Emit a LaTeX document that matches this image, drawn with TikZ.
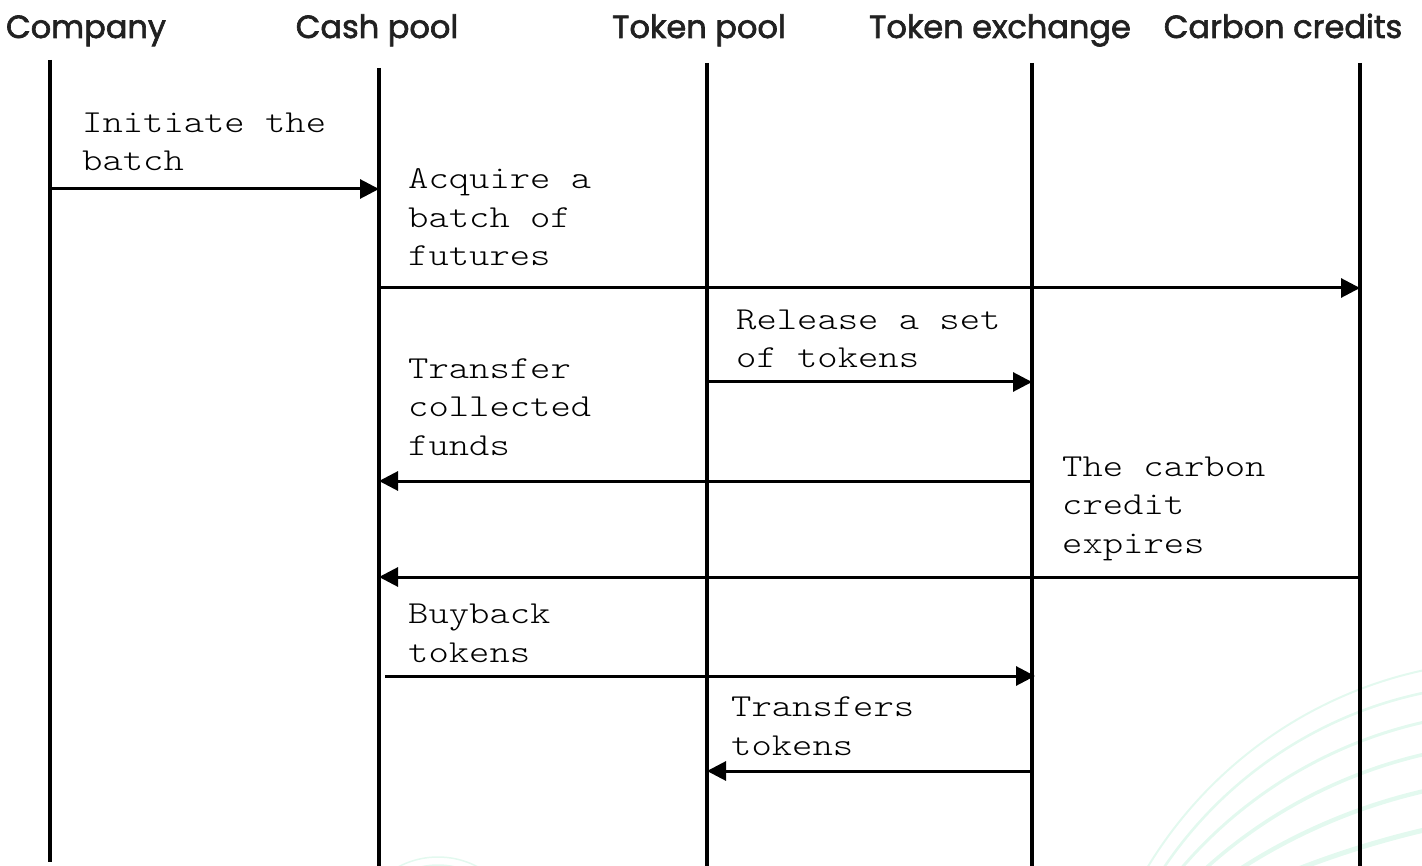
\documentclass[tikz,border=0pt]{standalone}
\usepackage{fontspec}
\usetikzlibrary{arrows.meta}
\newfontfamily\headfont{Poppins}[FakeBold=2]
\newfontfamily\notefont{lmmonolt10-regular}[Extension=.otf, FakeStretch=1.21]

\definecolor{mint}{HTML}{E3F9EF}

\tikzset{
  lifeline/.style={line width=4pt, black},
  msg/.style={line width=3pt, black, -{Triangle[length=19pt,width=19pt]}},
  header/.style={font=\headfont\fontsize{32}{36}\selectfont, text=black!87, anchor=base, inner sep=0pt},
  note/.style={font=\notefont\fontsize{32}{38.5}\selectfont, align=left, anchor=base west, inner sep=0pt},
  swirl/.style={draw=mint},
}

\begin{document}
\begin{tikzpicture}[x=1pt,y=-1pt]
  \useasboundingbox (0,0) rectangle (1422,866);

  % faint decorative arcs in the lower right corner
  \begin{scope}
    \clip (0,0) rectangle (1422,866);
    \draw[swirl, line width=2pt]   (1513.5,1088.3) circle[radius=427.5];
    \draw[swirl, line width=2.6pt] (1509.1,1100.5) circle[radius=416.4];
    \draw[swirl, line width=3pt]   (1522.0,1159.7) circle[radius=448.3];
    \draw[swirl, line width=3.6pt] (1534.5,1232.8) circle[radius=490.9];
    \draw[swirl, line width=4.3pt] (1555.1,1356.8) circle[radius=580.6];
    \draw[swirl, line width=5pt]   (1643.6,1760.4) circle[radius=955.7];
    \draw[swirl, line width=1.5pt] (438,942) circle[radius=85];
    \draw[swirl, line width=1.5pt] (438,942) circle[radius=77];
  \end{scope}

  % participants
  \node[header] (company)  at (86,38)   {Company};
  \node[header] (cashpool) at (377,38)  {Cash pool};
  \node[header] (tokpool)  at (699,38)  {Token pool};
  \node[header] (tokex)    at (1000,38) {Token exchange};
  \node[header] (carbon)   at (1283,38) {Carbon credits};

  % lifeline ends
  \coordinate (company-t)  at (50,60);   \coordinate (company-b)  at (50,862);
  \coordinate (cashpool-t) at (379,68);  \coordinate (cashpool-b) at (379,866);
  \coordinate (tokpool-t)  at (707,63);  \coordinate (tokpool-b)  at (707,866);
  \coordinate (tokex-t)    at (1032,63); \coordinate (tokex-b)    at (1032,866);
  \coordinate (carbon-t)   at (1360,63); \coordinate (carbon-b)   at (1360,866);

  \foreach \p in {company,cashpool,tokpool,tokex,carbon}
    \draw[lifeline] (\p-t) -- (\p-b);

  % message levels
  \coordinate (m1) at (0,189);
  \coordinate (m2) at (0,288);
  \coordinate (m3) at (0,382);
  \coordinate (m4) at (0,481);
  \coordinate (m5) at (0,577);
  \coordinate (m6) at (0,676);
  \coordinate (m7) at (0,771);

  % messages (each label is placed by the baseline of its last line)
  \draw[msg] (company-t |- m1) -- (cashpool-t |- m1);
  \node[note] (n1) at (82,171) {Initiate the\\batch};

  \draw[msg] (cashpool-t |- m2) -- (carbon-t |- m2);
  \node[note] (n2) at (408,266) {Acquire a\\batch of\\futures};

  \draw[msg] (tokpool-t |- m3) -- (tokex-t |- m3);
  \node[note] (n3) at (736,368) {Release a set\\of tokens};

  \draw[msg] (tokex-t |- m4) -- (cashpool-t |- m4);
  \node[note] (n4) at (408,455) {Transfer\\collected\\funds};

  \draw[msg] (carbon-t |- m5) -- (cashpool-t |- m5);
  \node[note] (n5) at (1062,553) {The carbon\\credit\\expires};

  \draw[msg] ([xshift=6pt]cashpool-t |- m6) -- ([xshift=3pt]tokex-t |- m6);
  \node[note] (n6) at (408,662) {Buyback\\tokens};

  \draw[msg] (tokex-t |- m7) -- (tokpool-t |- m7);
  \node[note] (n7) at (731,755) {Transfers\\tokens};
\end{tikzpicture}
\end{document}
